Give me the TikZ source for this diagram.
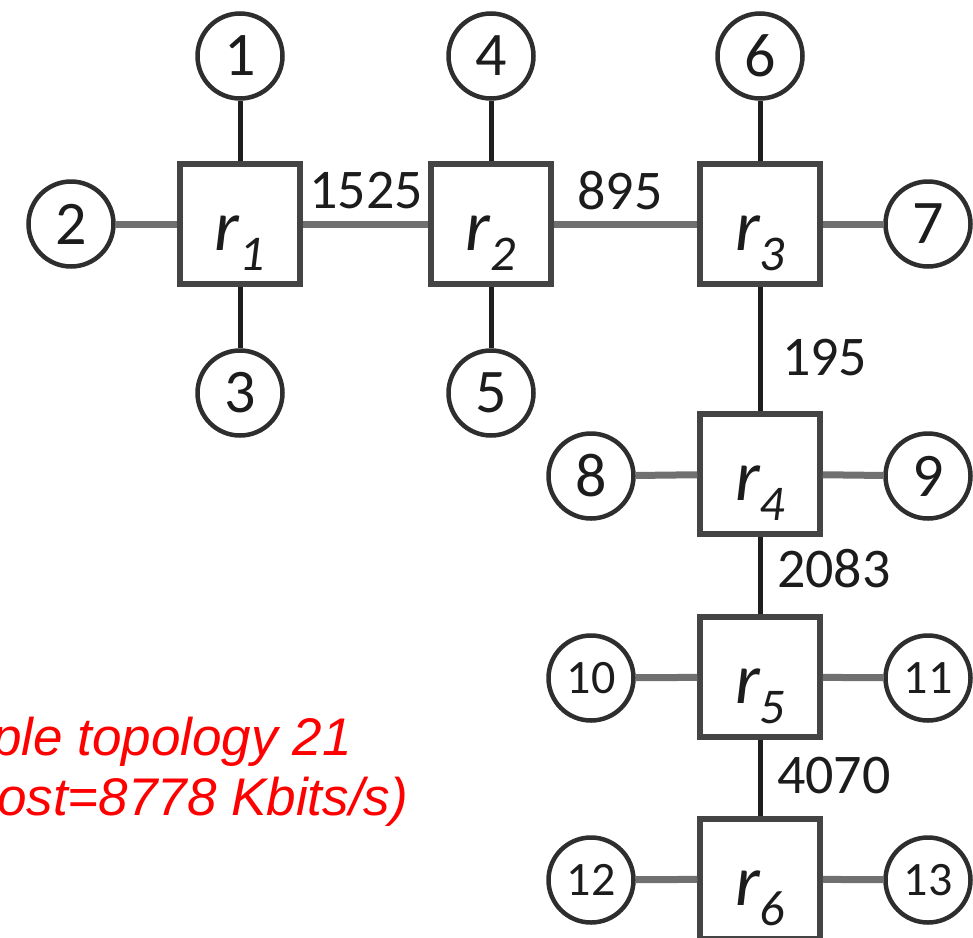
\documentclass[tikz,border=0pt]{standalone}
\usepackage{fontspec}
\setmainfont{Carlito}
\newfontfamily\captionfont{Liberation Sans}

\definecolor{boxgray}{HTML}{444444}
\definecolor{ringgray}{HTML}{2E2E2E}
\definecolor{vlink}{HTML}{1E1E1E}
\definecolor{hlink}{HTML}{707070}
\definecolor{labelgray}{HTML}{1C1C1C}

\tikzset{
  router/.style={draw=boxgray, line width=5.5pt, fill=white,
    minimum width=120pt, minimum height=120pt, inner sep=0pt,
    text height=52pt, text depth=0pt,
    font=\fontsize{72}{72}\selectfont\itshape, text=labelgray},
  host/.style={circle, draw=ringgray, line width=4.5pt, fill=white,
    minimum size=85pt, inner sep=0pt,
    font=\fontsize{62}{62}\selectfont, text=labelgray},
  smallhost/.style={host, font=\fontsize{48}{48}\selectfont},
  cost/.style={inner sep=0pt, font=\fontsize{56}{56}\selectfont, text=labelgray},
  vwire/.style={draw=vlink, line width=5pt},
  hwire/.style={draw=hlink, line width=7pt},
  caption/.style={inner sep=0pt, anchor=base west, text=red,
    font=\captionfont\itshape\fontsize{53}{53}\selectfont}
}
\newcommand{\routerlabel}[1]{r\raisebox{-20pt}{\fontsize{50}{50}\selectfont #1}}

\begin{document}
\begin{tikzpicture}[x=1pt, y=-1pt]
  \useasboundingbox (0,0) rectangle (973,937);
  \clip (0,0) rectangle (973,937);

  % routers
  \node[router] (r1) at (240,224) {\routerlabel{1}};
  \node[router] (r2) at (491,224) {\routerlabel{2}};
  \node[router] (r3) at (760,224) {\routerlabel{3}};
  \node[router] (r4) at (760,474) {\routerlabel{4}};
  \node[router] (r5) at (760,677) {\routerlabel{5}};
  \node[router] (r6) at (760,879) {\routerlabel{6}};

  % hosts
  \node[host] (h1) at (240,56) {1};
  \node[host] (h2) at (71,224) {2};
  \node[host] (h3) at (240,393) {3};
  \node[host] (h4) at (491,56) {4};
  \node[host] (h5) at (491,393) {5};
  \node[host] (h6) at (760,56) {6};
  \node[host] (h7) at (928,224) {7};
  \node[host] (h8) at (591,476) {8};
  \node[host] (h9) at (928,476) {9};
  \node[smallhost] (h10) at (591,678) {10};
  \node[smallhost] (h11) at (928,678) {11};
  \node[smallhost] (h12) at (591,880) {12};
  \node[smallhost] (h13) at (928,880) {13};

  % vertical links
  \draw[vwire] (h1) -- (r1);
  \draw[vwire] (r1) -- (h3);
  \draw[vwire] (h4) -- (r2);
  \draw[vwire] (r2) -- (h5);
  \draw[vwire] (h6) -- (r3);
  \draw[vwire] (r3) -- (r4);
  \draw[vwire] (r4) -- (r5);
  \draw[vwire] (r5) -- (r6);

  % horizontal links
  \draw[hwire] (h2) -- (r1);
  \draw[hwire] (r1) -- (r2);
  \draw[hwire] (r2) -- (r3);
  \draw[hwire] (r3) -- (h7);
  \draw[hwire] (h8) -- (r4);
  \draw[hwire] (r4) -- (h9);
  \draw[hwire] (h10) -- (r5);
  \draw[hwire] (r5) -- (h11);
  \draw[hwire] (h12) -- (r6);
  \draw[hwire] (r6) -- (h13);

  % link costs
  \node[cost] (c12) at (366,191) {1525};
  \node[cost] (c23) at (620,191) {895};
  \node[cost, anchor=west] (c34) at (782,358) {195};
  \node[cost, anchor=west] (c45) at (777,569) {2083};
  \node[cost, anchor=west] (c56) at (777,776) {4070};

  % caption, running off the left edge
  \node[caption] (cap1) at (-8,755) {ple topology 21};
  \node[caption] (cap2) at (-3,815) {ost=8778 Kbits/s)};
\end{tikzpicture}
\end{document}
